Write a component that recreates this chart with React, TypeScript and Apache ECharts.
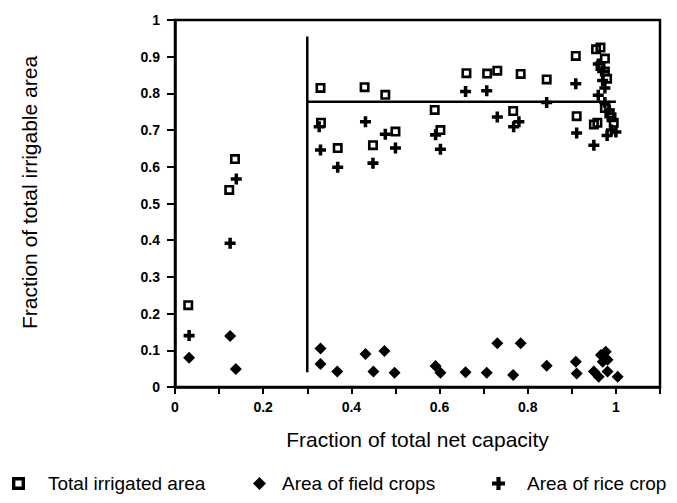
import React, { useEffect, useRef } from "react";
import * as echarts from "echarts";

const totalIrrigated: number[][] = [
  [0.03, 0.223], [0.123, 0.537], [0.136, 0.621], [0.33, 0.815], [0.43, 0.817],
  [0.477, 0.796], [0.661, 0.855], [0.331, 0.72], [0.369, 0.651], [0.449, 0.659],
  [0.5, 0.696], [0.589, 0.755], [0.602, 0.7], [0.708, 0.854], [0.731, 0.862],
  [0.784, 0.853], [0.843, 0.838], [0.909, 0.902], [0.767, 0.752], [0.911, 0.738],
  [0.955, 0.92], [0.965, 0.925], [0.975, 0.895], [0.965, 0.875], [0.975, 0.86],
  [0.98, 0.84], [0.95, 0.715], [0.958, 0.72], [0.975, 0.76], [0.985, 0.745],
  [0.99, 0.735], [0.995, 0.72],
];

const fieldCrops: number[][] = [
  [0.032, 0.08], [0.138, 0.049], [0.125, 0.139], [0.33, 0.105], [0.33, 0.063],
  [0.368, 0.042], [0.432, 0.09], [0.475, 0.098], [0.45, 0.042], [0.498, 0.039],
  [0.591, 0.057], [0.602, 0.039], [0.659, 0.04], [0.707, 0.039], [0.731, 0.119],
  [0.784, 0.119], [0.767, 0.033], [0.843, 0.058], [0.909, 0.069], [0.911, 0.037],
  [0.977, 0.096], [0.966, 0.087], [0.981, 0.074], [0.95, 0.042], [0.961, 0.028],
  [0.981, 0.042], [1.004, 0.028], [0.97, 0.069],
];

const riceCrop: number[][] = [
  [0.032, 0.14], [0.125, 0.392], [0.139, 0.567], [0.327, 0.709], [0.432, 0.723],
  [0.33, 0.646], [0.369, 0.599], [0.449, 0.61], [0.477, 0.689], [0.5, 0.651],
  [0.591, 0.687], [0.602, 0.648], [0.659, 0.805], [0.707, 0.807], [0.731, 0.736],
  [0.78, 0.723], [0.768, 0.709], [0.843, 0.775], [0.909, 0.826], [0.911, 0.692],
  [0.95, 0.659], [0.96, 0.88], [0.97, 0.835], [0.975, 0.815], [0.96, 0.795],
  [0.975, 0.775], [0.985, 0.755], [0.99, 0.7], [0.98, 0.685], [1.0, 0.695],
  [0.97, 0.86],
];

const verticalLine: number[][] = [[0.3, 0.04], [0.3, 0.955]];
const horizontalLine: number[][] = [[0.3, 0.777], [1.0, 0.777]];

const xLabels = ["0", "0.2", "0.4", "0.6", "0.8", "1"];

const SQUARE = "path://M0,0H10V10H0Z M2.6,2.6V7.4H7.4V2.6Z";
const PLUS = "path://M3.4,0H6.6V3.4H10V6.6H6.6V10H3.4V6.6H0V3.4H3.4Z";
const DIAMOND = "path://M5,0L10,5L5,10L0,5Z";

const FONT = "'Liberation Sans', Arial, sans-serif";

export default function App() {
  const ref = useRef<HTMLDivElement>(null);
  useEffect(() => {
    document.body.style.margin = "0";
    const chart = echarts.init(ref.current!, null, { renderer: "svg" });
    const legendText = { color: "#000", fontSize: 19, fontFamily: FONT };
    const mark = { color: "#000", opacity: 1 };
    chart.setOption({
      animation: false,
      backgroundColor: "#fff",
      grid: {
        left: 175,
        right: 17,
        top: 20,
        bottom: 116,
        show: true,
        borderColor: "#000",
        borderWidth: 2.5,
      },
      legend: [
        {
          left: 12, top: 474, padding: 0, itemWidth: 13, itemHeight: 13,
          data: [{ name: "Total irrigated area", icon: SQUARE }],
          itemStyle: mark,
          textStyle: { ...legendText, padding: [0, 0, 0, 18] },
        },
        {
          left: 253, top: 474, padding: 0, itemWidth: 13, itemHeight: 13,
          data: [{ name: "Area of field crops", icon: DIAMOND }],
          itemStyle: mark,
          textStyle: { ...legendText, padding: [0, 0, 0, 11] },
        },
        {
          left: 492, top: 474, padding: 0, itemWidth: 13, itemHeight: 13,
          data: [{ name: "Area of rice crop", icon: PLUS }],
          itemStyle: mark,
          textStyle: { ...legendText, padding: [0, 0, 0, 17] },
        },
      ],
      xAxis: {
        type: "value",
        min: 0,
        max: 1.1,
        interval: 0.1,
        name: "Fraction of total net capacity",
        nameLocation: "middle",
        nameGap: 42,
        nameTextStyle: { color: "#000", fontSize: 21, fontFamily: FONT },
        axisLine: { show: true, lineStyle: { color: "#000", width: 2.5 } },
        axisTick: { show: true, length: 7, lineStyle: { color: "#000", width: 2 } },
        splitLine: { show: false },
        axisLabel: {
          color: "#000",
          fontSize: 14,
          fontWeight: "bold",
          fontFamily: FONT,
          margin: 13,
          formatter: (v: number) => {
            const r = Math.round(v * 10);
            if (r % 2 === 0 && r <= 10) return xLabels[r / 2];
            return "";
          },
        },
      },
      yAxis: {
        type: "value",
        min: 0,
        max: 1,
        interval: 0.1,
        name: "Fraction of total irrigable area",
        nameLocation: "middle",
        nameGap: 135,
        nameTextStyle: { color: "#000", fontSize: 21, fontFamily: FONT, padding: [0, 0, 0, 22] },
        axisLine: { show: true, lineStyle: { color: "#000", width: 2.5 } },
        axisTick: { show: true, length: 8, lineStyle: { color: "#000", width: 2 } },
        splitLine: { show: false },
        axisLabel: {
          color: "#000",
          fontSize: 14,
          fontWeight: "bold",
          fontFamily: FONT,
          margin: 15,
          formatter: (v: number) => {
            const r = Math.round(v * 10);
            if (r === 0) return "0";
            if (r === 10) return "1";
            return (r / 10).toFixed(1);
          },
        },
      },
      series: [
        {
          name: "Total irrigated area",
          type: "scatter",
          symbol: SQUARE,
          symbolSize: 10,
          itemStyle: mark,
          data: totalIrrigated,
          z: 3,
        },
        {
          name: "Area of field crops",
          type: "scatter",
          symbol: DIAMOND,
          symbolSize: 12,
          itemStyle: mark,
          data: fieldCrops,
          z: 3,
        },
        {
          name: "Area of rice crop",
          type: "scatter",
          symbol: PLUS,
          symbolSize: 11,
          itemStyle: mark,
          data: riceCrop,
          z: 3,
        },
        {
          name: "vline",
          type: "line",
          data: verticalLine,
          symbol: "none",
          lineStyle: { color: "#000", width: 2.5 },
          z: 2,
        },
        {
          name: "hline",
          type: "line",
          data: horizontalLine,
          symbol: "none",
          lineStyle: { color: "#000", width: 2.5 },
          z: 2,
        },
      ],
    });
    return () => chart.dispose();
  }, []);
  return <div ref={ref} style={{ width: 677, height: 503 }} />;
}
